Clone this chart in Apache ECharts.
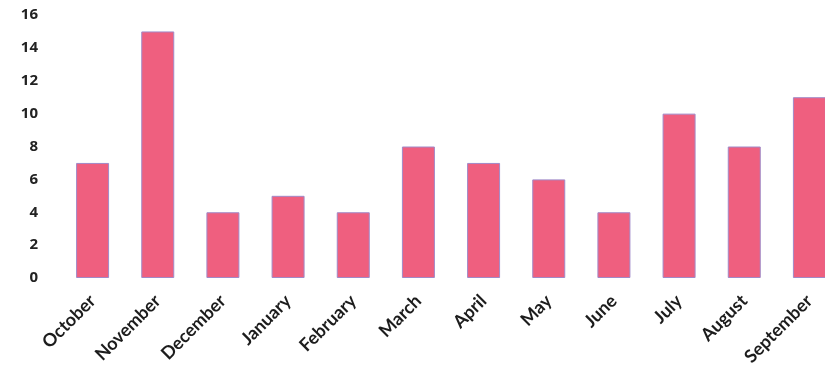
<!DOCTYPE html>
<html><head><meta charset="utf-8">
<script src="https://cdn.jsdelivr.net/npm/echarts@6/dist/echarts.min.js"></script>
<style>html,body{margin:0;padding:0;background:#fff}#c{width:825px;height:381px}</style>
</head><body><div id="c"></div>
<script>
const months = ['October','November','December','January','February','March','April','May','June','July','August','September'];
const counts = [7, 15, 4, 5, 4, 8, 7, 6, 4, 10, 8, 11];
const yTicks = {min: 0, max: 16, interval: 2};

const chart = echarts.init(document.getElementById('c'));
chart.setOption({
  animation: false,
  backgroundColor: '#ffffff',
  grid: {left: 60, top: 15, bottom: 103, width: 782, containLabel: false, outerBoundsMode: 'none'},
  xAxis: {
    type: 'category', data: months,
    axisLine: {show: false}, axisTick: {show: false},
    axisLabel: {rotate: 45, margin: 20, color: '#1c1c1c', fontSize: 18, fontWeight: 'bold',
      fontFamily: 'Lato', interval: 0}
  },
  yAxis: {
    type: 'value', min: yTicks.min, max: yTicks.max, interval: yTicks.interval,
    splitLine: {show: false}, axisLine: {show: false}, axisTick: {show: false},
    axisLabel: {margin: 22, color: '#222', fontSize: 15, fontWeight: 'bold', fontFamily: 'Open Sans'}
  },
  series: [{
    type: 'bar', data: counts, barWidth: 33,
    itemStyle: {color: '#ef5f7f', borderColor: '#a08ac8', borderWidth: 1}
  }]
});
</script></body></html>
